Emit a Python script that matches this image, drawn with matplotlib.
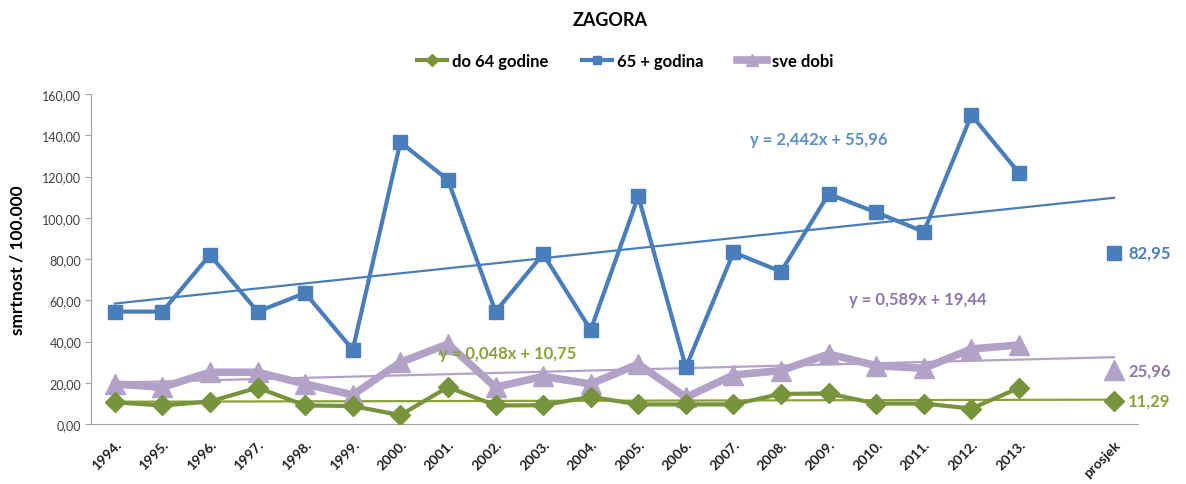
import matplotlib
matplotlib.use("Agg")
import matplotlib.pyplot as plt
import numpy as np

years = ["1994.", "1995.", "1996.", "1997.", "1998.", "1999.", "2000.", "2001.", "2002.", "2003.",
         "2004.", "2005.", "2006.", "2007.", "2008.", "2009.", "2010.", "2011.", "2012.", "2013."]
tick_labels = years + ["", "prosjek"]

do64 = [10.5, 9.0, 10.9, 17.6, 9.0, 8.7, 4.3, 17.9, 9.0, 9.1, 13.2, 9.5, 9.5, 9.5, 14.6, 14.8, 9.9, 9.9, 7.5, 17.5]
g65 = [54.5, 54.5, 82.0, 54.5, 63.5, 36.0, 136.6, 118.4, 54.5, 82.4, 45.6, 110.4, 27.5, 83.2, 73.9, 111.5, 102.6, 93.2, 149.8, 121.7]
sve = [19.4, 17.8, 25.1, 25.1, 19.4, 14.1, 29.9, 38.8, 17.8, 23.1, 19.4, 29.1, 12.9, 23.8, 25.9, 33.9, 28.3, 27.0, 36.4, 38.3]

avg_do64 = 11.29
avg_g65 = 82.95
avg_sve = 25.96

trend_do64 = (0.048, 10.75)
trend_g65 = (2.442, 55.96)
trend_sve = (0.589, 19.44)

c_green = "#77933C"
c_green_t = "#8AA13A"
c_blue = "#4A7EBB"
c_purple = "#B3A2C7"
c_purple_t = "#8E76B0"

font = ["Lato", "DejaVu Sans"]
plt.rcParams["font.family"] = font

fig = plt.figure(figsize=(11.86, 4.85), dpi=100)
ax = fig.add_axes([91/1186, 60/485, 1047/1186, 330/485])

n = len(tick_labels)
xi = np.arange(len(years))
xt = np.arange(1, n + 1)
pos_avg = n - 1

# trendlines
for (m, b), col in [(trend_g65, c_blue), (trend_sve, c_purple), (trend_do64, c_green_t)]:
    ax.plot(xt - 1, m * xt + b, color=col, lw=1.6, zorder=2)

l1, = ax.plot(xi, do64, color=c_green, lw=3, marker="D", ms=10, label="do 64 godine", zorder=5)
l2, = ax.plot(xi, g65, color=c_blue, lw=3, marker="s", ms=10, label="65 + godina", zorder=4)
l3, = ax.plot(xi, sve, color=c_purple, lw=5.5, marker="^", ms=15, label="sve dobi", zorder=3)

ax.plot([pos_avg], [avg_g65], marker="s", ms=10, color=c_blue, ls="none", zorder=4)
ax.plot([pos_avg], [avg_sve], marker="^", ms=15, color=c_purple, ls="none", zorder=3)
ax.plot([pos_avg], [avg_do64], marker="D", ms=10, color=c_green, ls="none", zorder=5)

def fmt(v):
    return f"{v:.2f}".replace(".", ",")

for v, col in [(avg_g65, c_blue), (avg_sve, c_purple_t), (avg_do64, c_green_t)]:
    ax.annotate(fmt(v), (pos_avg, v), xytext=(10, 0), textcoords="offset points",
                va="center", ha="left", fontsize=12, fontweight="bold", color=col,
                annotation_clip=False)

def eq(m, b):
    return f"y = {m:.3f}x + {b:.2f}".replace(".", ",")

ax.text(14.8, 138.2, eq(*trend_g65), color="#5B8FC9", fontsize=12, fontweight="bold", ha="center", va="center")
ax.text(16.87, 60.6, eq(*trend_sve), color=c_purple_t, fontsize=12, fontweight="bold", ha="center", va="center")
ax.text(8.26, 34.4, eq(*trend_do64), color=c_green_t, fontsize=12, fontweight="bold", ha="center", va="center", zorder=6)

ax.set_xlim(-0.5, n - 0.5)
ax.set_ylim(0, 160)
ax.set_yticks(np.arange(0, 161, 20))
ax.set_yticklabels([fmt(v) for v in np.arange(0, 161, 20)], fontsize=9, color="#404040")
ax.set_xticks(np.arange(n))
ax.set_xticklabels(tick_labels, rotation=45, ha="right", rotation_mode="anchor",
                   fontsize=10, fontweight="bold", color="#202020")
ax.tick_params(axis="x", length=0, pad=10)
ax.tick_params(axis="y", length=4, color="#A0A0A0", pad=3)

for s in ["top", "right"]:
    ax.spines[s].set_visible(False)
for s in ["left", "bottom"]:
    ax.spines[s].set_color("#A0A0A0")

ax.set_ylabel("smrtnost / 100.000", fontsize=12.5, fontweight="bold", labelpad=12)

fig.text(610/1186, 1 - 20/485, "ZAGORA", ha="center", va="center", fontsize=13, fontweight="bold")
fig.legend(handles=[l1, l2, l3], loc="center", bbox_to_anchor=(625/1186, 1 - 62/485), ncol=3,
           frameon=False, prop={"family": font, "weight": "bold", "size": 12},
           handlelength=1.8, columnspacing=2.0, handletextpad=0.3, markerscale=0.6)

fig.savefig("out.png", dpi=100)
